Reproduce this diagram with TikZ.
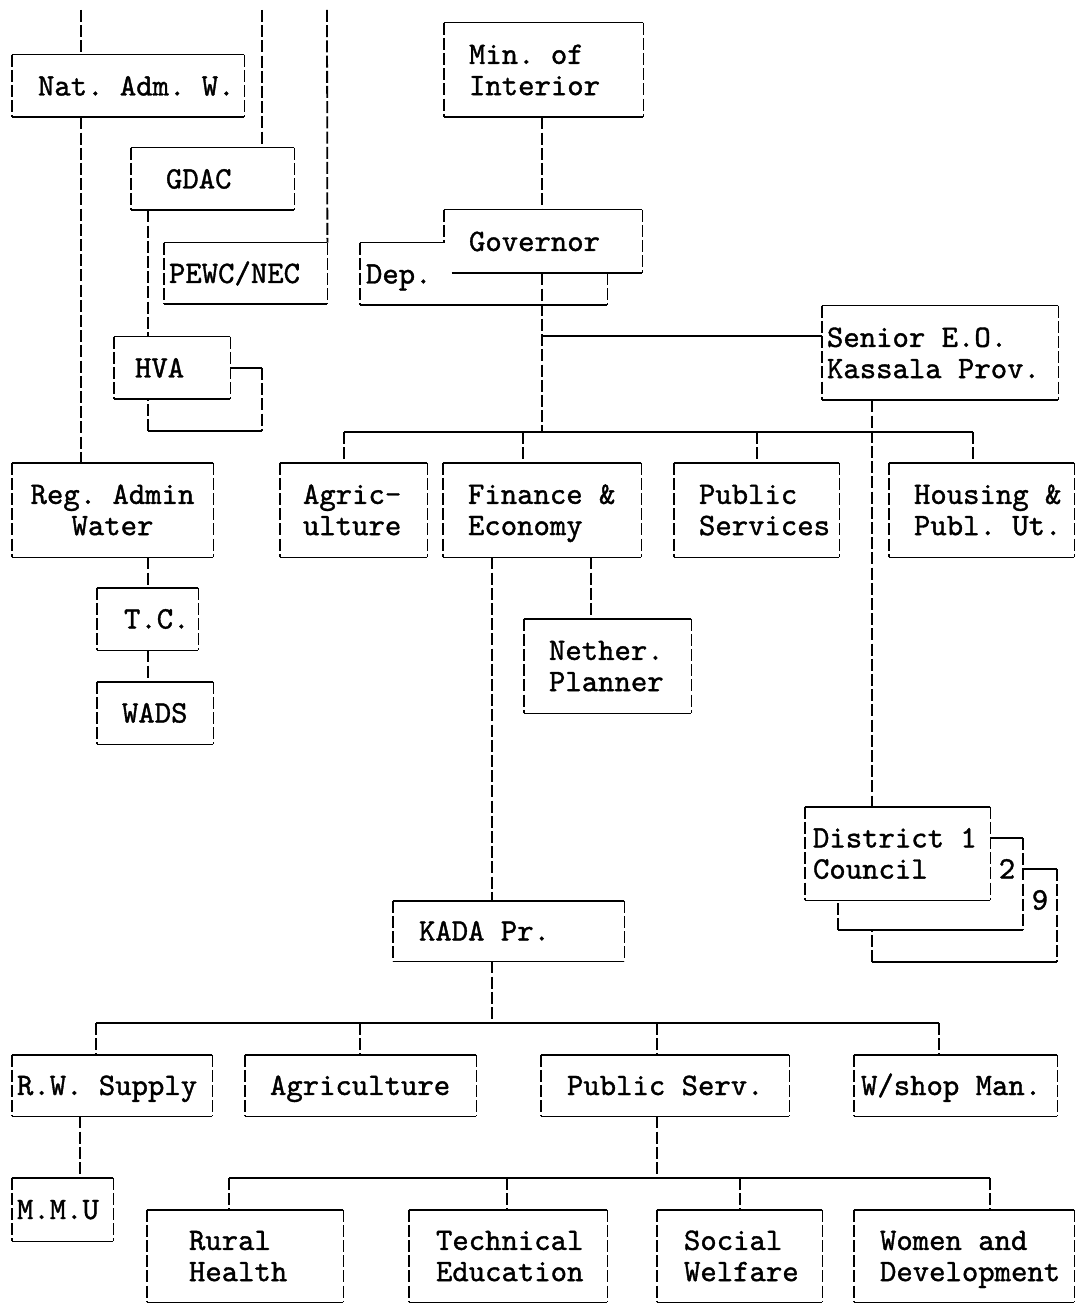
\documentclass[tikz,border=0pt]{standalone}
\usepackage{fontspec}
\usepackage{tikz}

% typewriter lettering of the chart
\newfontfamily\tyface{lmmono10-regular.otf}[FakeBold=1.2]
\newcommand\tyfont{\tyface\fontsize{15.6}{15.6}\selectfont}
\newcommand\tsp{\hspace*{0.525em}}   % one typewriter space

% box text: options, name, x1, y1, x2, y2, left pad, text   (pixel units)
\newcommand\tnode[8][]{%
  \pgfmathsetlengthmacro\boxw{(#5-#3)*0.5pt}%
  \pgfmathsetlengthmacro\boxh{(#6-#4)*0.5pt}%
  \pgfmathsetlengthmacro\textw{(#5-#3-2*#7)*0.5pt}%
  \node[tbox,minimum width=\boxw,minimum height=\boxh,text width=\textw,#1] (#2) at ({(#3+#5)/2},{(#4+#6)/2}) {#8};}
% typed frame: solid rules across, broken bars down
\newcommand\tframe[1]{%
  \draw[hrule] (#1.north west) -- (#1.north east) (#1.south west) -- (#1.south east);
  \draw[vrule] (#1.north west) -- (#1.south west) (#1.north east) -- (#1.south east);}

\begin{document}
\begin{tikzpicture}[x=0.5pt,y=-0.5pt,
  hrule/.style={line width=0.9pt},
  vrule/.style={line width=0.9pt,dash pattern=on 6pt off 1.6pt},
  tbox/.style={inner sep=0pt,align=left,font=\tyfont,
    execute at begin node={\hyphenpenalty=10000\rule{0pt}{13pt}},
    execute at end node={\rule[-3.5pt]{0pt}{3.5pt}}}]
\useasboundingbox (0,0) rectangle (1078,1304);

% Lines coming in from above
\coordinate (top1) at (81,10);
\coordinate (top2) at (262,10);
\coordinate (top3) at (327,10);

% Left column (water)
\tnode{nat}{12}{55}{244}{117}{26}{Nat.\tsp Adm.\tsp W.}  \tframe{nat}
\tnode{gdac}{131}{148}{294}{210}{35}{GDAC}               \tframe{gdac}
\tnode{pewc}{164}{243}{327}{304}{5}{PEWC/NEC}            \tframe{pewc}
\tnode{hva}{114}{337}{230}{399}{21}{HVA}                 \tframe{hva}
\tnode[align=center]{reg}{12}{463}{213}{557}{8}{Reg.\tsp Admin\\Water} \tframe{reg}
\tnode{tc}{97}{588}{198}{650}{27}{T.C.}                  \tframe{tc}
\tnode{wads}{97}{682}{213}{744}{25}{WADS}                \tframe{wads}

\draw[vrule] (top1) -- (top1 |- nat.north);
\draw[vrule] (top2) -- (top2 |- gdac.north);
\draw[vrule] (top3) -- (pewc.north east);
\draw[vrule] (nat.south -| top1) -- (reg.north -| top1);
\draw[vrule] (gdac.south -| 148,0) -- (hva.north -| 148,0);
\draw[vrule] (reg.south -| 148,0) -- (tc.north -| 148,0);
\draw[vrule] (tc.south -| 148,0) -- (wads.north -| 148,0);

% HVA second sheet
\draw[hrule] (hva.east) -- (hva.east -| top2);
\draw[vrule] (hva.east -| top2) -- (top2 |- 0,431);
\draw[hrule] (top2 |- 0,431) -- (148,431);
\draw[vrule] (148,431) -- (hva.south -| 148,0);

% Province
\tnode{min}{444}{23}{643}{117}{25}{Min.\tsp of\\Interior} \tframe{min}
\tnode{dep}{360}{243}{607}{305}{6}{Dep.}                 \tframe{dep}
\tnode[fill=white]{gov}{444}{210}{642}{273}{25}{Governor}
\draw[hrule] (gov.north west) -- (gov.north east);
\draw[hrule] ([xshift=4pt]gov.south west) -- (gov.south east);
\draw[vrule] (gov.north east) -- (gov.south east);
\draw[vrule] (gov.north west) -- (gov.west |- dep.north);
\tnode{sen}{822}{306}{1058}{400}{5}{Senior\tsp E.O.\\Kassala\tsp Prov.} \tframe{sen}

\draw[vrule] (min.south -| 542,0) -- (gov.north -| 542,0);
\coordinate (bus1) at (542,432);
\draw[vrule] (gov.south -| bus1) -- (bus1);
\draw[hrule] (bus1 |- 0,336) -- (sen.west |- 0,336);

% Departments
\tnode{agr}{280}{463}{427}{557}{23}{Agric-\\ulture}      \tframe{agr}
\tnode{fin}{443}{463}{641}{557}{25}{Finance\tsp\&\\Economy} \tframe{fin}
\tnode{pub}{674}{463}{839}{557}{25}{Public\\Services}    \tframe{pub}
\tnode{hou}{889}{463}{1074}{557}{25}{Housing\tsp\&\\Publ.\tsp Ut.} \tframe{hou}

\draw[hrule] (bus1 -| 344,0) -- (bus1 -| 973,0);
\foreach \n/\x in {agr/344,fin/523,pub/757,hou/973}
  \draw[vrule] (bus1 -| \x,0) -- (\n.north -| \x,0);

\tnode{neth}{524}{619}{691}{713}{25}{Nether.\\Planner}   \tframe{neth}
\draw[vrule] (fin.south -| 591,0) -- (neth.north -| 591,0);

% Districts
\tnode{dist}{805}{807}{990}{900}{8}{District\tsp 1\\Council} \tframe{dist}
\draw[vrule] (sen.south -| 872,0) -- (dist.north -| 872,0);
\draw[hrule] (dist.east |- 0,838) -- (1023,838);
\draw[vrule] (1023,838) -- (1023,930);
\draw[hrule] (1023,930) -- (838,930);
\draw[vrule] (838,930) -- (dist.south -| 838,0);
\draw[hrule] (1023,869) -- (1057,869);
\draw[vrule] (1057,869) -- (1057,962);
\draw[hrule] (1057,962) -- (872,962);
\draw[vrule] (872,962) -- (872,930);
\node[tbox] (dtwo) at (1007,869) {2};
\node[tbox] (dnine) at (1040,900) {9};

% KADA
\tnode{kada}{393}{901}{624}{961}{26}{KADA\tsp Pr.}       \tframe{kada}
\draw[vrule] (fin.south -| 492,0) -- (kada.north -| 492,0);
\coordinate (bus2) at (492,1023);
\draw[vrule] (kada.south -| bus2) -- (bus2);

\tnode{rws}{12}{1055}{212}{1116}{5}{R.W.\tsp Supply}     \tframe{rws}
\tnode{agri}{245}{1055}{476}{1116}{25}{Agriculture}      \tframe{agri}
\tnode{pubs}{541}{1055}{789}{1116}{26}{Public\tsp Serv.} \tframe{pubs}
\tnode{wsm}{854}{1055}{1057}{1116}{7}{W/shop\tsp Man.}   \tframe{wsm}

\draw[hrule] (bus2 -| 96,0) -- (bus2 -| 939,0);
\foreach \n/\x in {rws/96,agri/360,pubs/657,wsm/939}
  \draw[vrule] (bus2 -| \x,0) -- (\n.north -| \x,0);

\tnode{mmu}{12}{1178}{113}{1241}{5}{M.M.U}               \tframe{mmu}
\draw[vrule] (rws.south -| 80,0) -- (mmu.north -| 80,0);

% Public services units
\tnode{rur}{147}{1210}{343}{1302}{42}{Rural\\Health}     \tframe{rur}
\tnode{tec}{409}{1210}{607}{1302}{27}{Technical\\Education} \tframe{tec}
\tnode{soc}{657}{1210}{822}{1302}{27}{Social\\Welfare}   \tframe{soc}
\tnode{wom}{854}{1210}{1074}{1302}{26}{Women\tsp and\\Development} \tframe{wom}

\coordinate (bus3) at (657,1178);
\draw[vrule] (pubs.south -| bus3) -- (bus3);
\draw[hrule] (bus3 -| 229,0) -- (bus3 -| 990,0);
\foreach \n/\x in {rur/229,tec/507,soc/740,wom/990}
  \draw[vrule] (bus3 -| \x,0) -- (\n.north -| \x,0);

\end{tikzpicture}
\end{document}
